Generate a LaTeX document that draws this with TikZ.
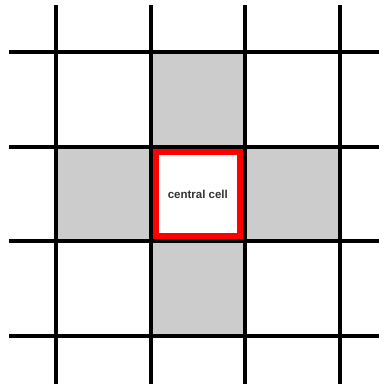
\documentclass[tikz,border=0pt]{standalone}
\usepackage{fontspec}
\setmainfont{Liberation Sans}
\begin{document}
\begin{tikzpicture}[x=1pt,y=-1pt,
  gridline/.style={line width=4pt,black},
  graycell/.style={fill=black!20,draw=none},
  centralbox/.style={draw=red,line width=6pt,fill=white,minimum width=84pt,minimum height=84pt,inner sep=0pt,text=black!80,font=\bfseries\fontsize{11.5}{13}\selectfont}]
\useasboundingbox (0,0) rectangle (379,384);
% gray cells
\fill[graycell] (150.7,51.7) rectangle (245.3,146.7);
\fill[graycell] (56,146.7) rectangle (150.7,240.7);
\fill[graycell] (245.3,146.7) rectangle (340,240.7);
\fill[graycell] (150.7,240.7) rectangle (245.3,336);
% vertical lines
\foreach \x in {56,150.7,245.3,340} \draw[gridline] (\x,5) -- (\x,384);
% horizontal lines
\foreach \y in {51.7,146.7,240.7,336} \draw[gridline] (9,\y) -- (379,\y);
% central cell
\node[centralbox] (c) at (197.8,193.9) {central cell};
\end{tikzpicture}
\end{document}
